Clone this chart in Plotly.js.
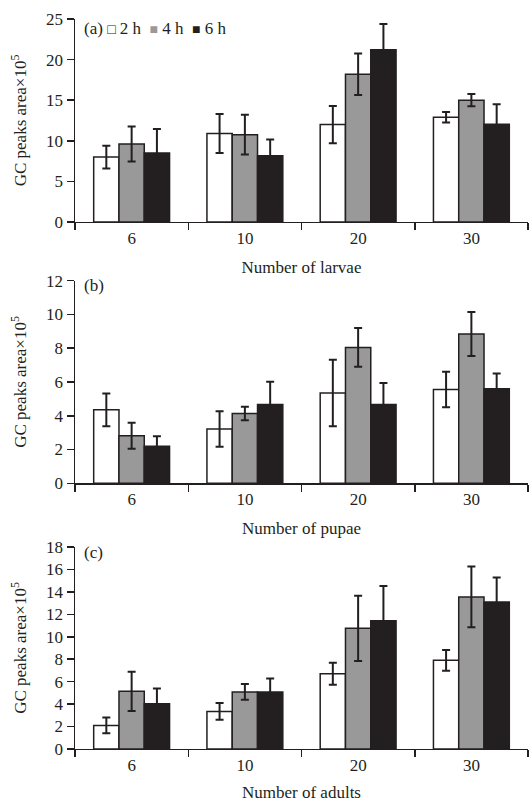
<!DOCTYPE html>
<html><head><meta charset="utf-8">
<script src="https://cdn.plot.ly/plotly-3.0.1.min.js"></script>
<style>body{margin:0;background:#fff}</style>
</head><body><div id="chart" style="width:531px;height:802px"></div>
<script>
// ---- data ----
const categories = ['6', '10', '20', '30'];
const seriesNames = ['2 h', '4 h', '6 h'];
const panelLetters = ['(a)', '(b)', '(c)'];
const xTitles = ['Number of larvae', 'Number of pupae', 'Number of adults'];
const yTitle = 'GC peaks area×10<sup>5</sup>';

// (a) larvae
const larvae2h = [8.0, 10.9, 12.0, 12.9];
const larvae2hErr = [1.4, 2.4, 2.3, 0.65];
const larvae4h = [9.6, 10.75, 18.2, 15.0];
const larvae4hErr = [2.15, 2.45, 2.55, 0.75];
const larvae6h = [8.5, 8.15, 21.2, 12.05];
const larvae6hErr = [2.95, 2.0, 3.2, 2.45];

// (b) pupae
const pupae2h = [4.35, 3.22, 5.35, 5.55];
const pupae2hErr = [0.97, 1.05, 1.97, 1.05];
const pupae4h = [2.82, 4.14, 8.05, 8.84];
const pupae4hErr = [0.77, 0.4, 1.15, 1.3];
const pupae6h = [2.19, 4.66, 4.66, 5.6];
const pupae6hErr = [0.6, 1.36, 1.28, 0.9];

// (c) adults
const adults2h = [2.1, 3.35, 6.7, 7.9];
const adults2hErr = [0.7, 0.75, 0.98, 0.92];
const adults4h = [5.14, 5.08, 10.75, 13.55];
const adults4hErr = [1.75, 0.7, 2.9, 2.7];
const adults6h = [4.04, 5.08, 11.43, 13.1];
const adults6hErr = [1.34, 1.2, 3.1, 2.17];

// ---- styling ----
const ink = '#231f20';
const fills = ['#ffffff', '#999999', '#231f20'];
const FONT = 'Liberation Serif, Times New Roman, serif';
const FS = 17;

const panels = [
  {vals: [larvae2h, larvae4h, larvae6h], errs: [larvae2hErr, larvae4hErr, larvae6hErr], range: [0, 25], dtick: 5, domain: [0.7232, 0.9763], labelY: 0.965},
  {vals: [pupae2h, pupae4h, pupae6h], errs: [pupae2hErr, pupae4hErr, pupae6hErr], range: [0, 12], dtick: 2, domain: [0.3974, 0.6500], labelY: 0.6434},
  {vals: [adults2h, adults4h, adults6h], errs: [adults2hErr, adults4hErr, adults6hErr], range: [0, 18], dtick: 2, domain: [0.0661, 0.3180], labelY: 0.3117}
];

const traces = [];
const layout = {
  width: 531, height: 802,
  margin: {l: 75, r: 3, t: 0, b: 0},
  paper_bgcolor: '#fff', plot_bgcolor: '#fff',
  barmode: 'group', bargap: 0.33, bargroupgap: 0,
  showlegend: false,
  font: {family: FONT, size: FS, color: ink},
  annotations: []
};

panels.forEach((p, pi) => {
  const sfx = pi === 0 ? '' : String(pi + 1);
  p.vals.forEach((v, si) => {
    traces.push({
      type: 'bar', name: seriesNames[si], x: categories, y: v,
      xaxis: 'x' + sfx, yaxis: 'y' + sfx,
      marker: {color: fills[si], line: {color: ink, width: 1.5}},
      error_y: {type: 'data', array: p.errs[si], visible: true, color: ink, thickness: 2, width: 4},
      hoverinfo: 'x+y'
    });
  });
  layout['xaxis' + sfx] = {
    domain: [0, 1], anchor: 'y' + sfx, type: 'category',
    tickson: 'boundaries', ticks: 'outside', ticklen: 7, tickwidth: 1.5, tickcolor: ink,
    showline: true, linewidth: 1.5, linecolor: ink, showgrid: false, zeroline: false,
    tickfont: {family: FONT, size: FS, color: ink},
    title: {text: xTitles[pi], font: {family: FONT, size: FS, color: ink}, standoff: 14}
  };
  layout['yaxis' + sfx] = {
    domain: p.domain, anchor: 'x' + sfx, range: p.range, dtick: p.dtick,
    ticks: 'outside', ticklen: 7, tickwidth: 1.5, tickcolor: ink,
    showline: true, linewidth: 1.5, linecolor: ink, showgrid: false, zeroline: false,
    tickfont: {family: FONT, size: FS, color: ink},
    title: {text: yTitle, font: {family: FONT, size: FS, color: ink}, standoff: 15}
  };
  let txt = panelLetters[pi];
  if (pi === 0) {
    const sq = ['<span style="font-size:14px">□</span>',
                '<span style="font-size:14px;fill:#999999">■</span>',
                '<span style="font-size:14px">■</span>'];
    txt += '\u00a0' + seriesNames.map((n, i) => sq[i] + '\u00a0' + n).join('\u00a0\u00a0');
  }
  layout.annotations.push({
    xref: 'paper', yref: 'paper', x: 0.0155, y: p.labelY,
    xanchor: 'left', yanchor: 'middle', showarrow: false,
    text: txt, font: {family: FONT, size: FS, color: ink}
  });
});

Plotly.newPlot('chart', traces, layout, {displayModeBar: false, staticPlot: true});
</script>
</body></html>
